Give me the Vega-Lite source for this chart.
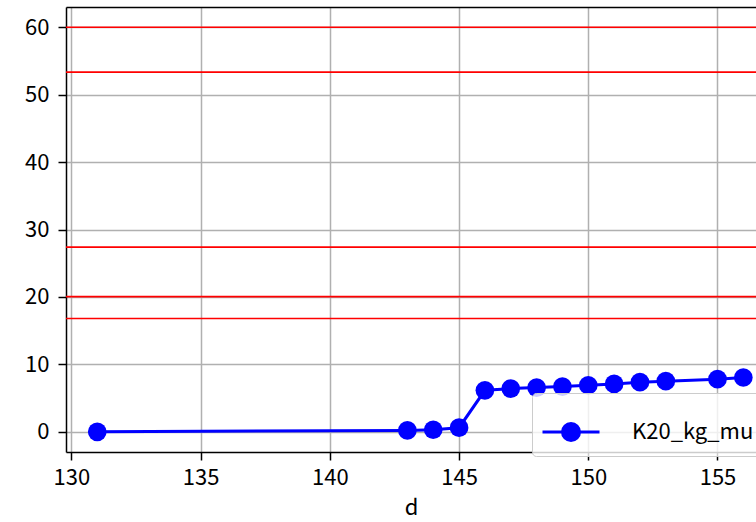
{
  "$schema": "https://vega.github.io/schema/vega-lite/v6.json",
  "width": 690,
  "height": 445,
  "autosize": "none",
  "padding": {"left": 66, "top": 7, "right": 0, "bottom": 70},
  "background": "white",
  "config": {
    "view": {"stroke": null},
    "font": "Noto Sans CJK JP",
    "axis": {
      "labelFont": "Noto Sans CJK JP",
      "titleFont": "Noto Sans CJK JP",
      "labelFontSize": 22,
      "titleFontSize": 22,
      "titleFontWeight": "normal",
      "labelColor": "black",
      "titleColor": "black",
      "domainColor": "black",
      "domainWidth": 1.5,
      "tickColor": "black",
      "tickWidth": 1.5,
      "tickSize": 8,
      "gridColor": "#b0b0b0",
      "gridWidth": 1.5,
      "gridOpacity": 1
    }
  },
  "datasets": {
    "series": [
      {"d": 131, "value": 0.0, "series": "K20_kg_mu"},
      {"d": 143, "value": 0.2, "series": "K20_kg_mu"},
      {"d": 144, "value": 0.3, "series": "K20_kg_mu"},
      {"d": 145, "value": 0.6, "series": "K20_kg_mu"},
      {"d": 146, "value": 6.15, "series": "K20_kg_mu"},
      {"d": 147, "value": 6.4, "series": "K20_kg_mu"},
      {"d": 148, "value": 6.55, "series": "K20_kg_mu"},
      {"d": 149, "value": 6.7, "series": "K20_kg_mu"},
      {"d": 150, "value": 6.9, "series": "K20_kg_mu"},
      {"d": 151, "value": 7.1, "series": "K20_kg_mu"},
      {"d": 152, "value": 7.35, "series": "K20_kg_mu"},
      {"d": 153, "value": 7.5, "series": "K20_kg_mu"},
      {"d": 155, "value": 7.8, "series": "K20_kg_mu"},
      {"d": 156, "value": 8.05, "series": "K20_kg_mu"}
    ],
    "hlines": [
      {"level": 60},
      {"level": 53.35},
      {"level": 27.4},
      {"level": 20.05},
      {"level": 16.8}
    ]
  },
  "layer": [
    {
      "data": {"name": "hlines"},
      "mark": {"type": "rule", "color": "#ff0000", "strokeWidth": 1.7},
      "encoding": {
        "y": {
          "field": "level",
          "type": "quantitative",
          "scale": {"domain": [-3, 63], "nice": false, "zero": false},
          "axis": {"values": [0, 10, 20, 30, 40, 50, 60], "title": null, "labelPadding": 9}
        }
      }
    },
    {
      "data": {"name": "series"},
      "mark": {"type": "line", "color": "blue", "strokeWidth": 3},
      "encoding": {
        "x": {
          "field": "d",
          "type": "quantitative",
          "scale": {"domain": [129.79, 156.49], "nice": false, "zero": false},
          "axis": {"values": [130, 135, 140, 145, 150, 155], "title": "d", "labelPadding": 7, "titlePadding": 9}
        },
        "y": {"field": "value", "type": "quantitative"},
        "color": {
          "field": "series",
          "type": "nominal",
          "scale": {"range": ["blue"]},
          "legend": {
            "title": null,
            "orient": "none",
            "legendX": 466,
            "legendY": 386,
            "padding": 9,
            "strokeColor": "#cccccc",
            "fillColor": "rgba(255,255,255,0.8)",
            "cornerRadius": 4,
            "labelFont": "Noto Sans CJK JP",
            "labelFontSize": 22,
            "labelColor": "black",
            "labelOffset": 31,
            "symbolType": "M-1,0H1M0.3,0A0.3,0.3,0,1,1,-0.3,0A0.3,0.3,0,1,1,0.3,0Z",
            "symbolSize": 3249,
            "symbolStrokeWidth": 3,
            "symbolFillColor": "blue",
            "symbolStrokeColor": "blue",
            "encode": {
              "symbols": {
                "update": {
                  "fill": {"value": "blue"},
                  "stroke": {"value": "blue"},
                  "strokeWidth": {"value": 3},
                  "size": {"value": 3249},
                  "shape": {"value": "M-1,0H1M0.3,0A0.3,0.3,0,1,1,-0.3,0A0.3,0.3,0,1,1,0.3,0Z"}
                }
              }
            }
          }
        }
      }
    },
    {
      "data": {"name": "series"},
      "mark": {"type": "point", "shape": "circle", "filled": true, "color": "blue", "opacity": 1, "size": 350},
      "encoding": {
        "x": {
          "field": "d",
          "type": "quantitative",
          "axis": {"orient": "top", "labels": false, "ticks": false, "grid": false, "title": null, "domain": true}
        },
        "y": {"field": "value", "type": "quantitative"}
      }
    }
  ],
  "resolve": {"axis": {"x": "independent"}}
}
